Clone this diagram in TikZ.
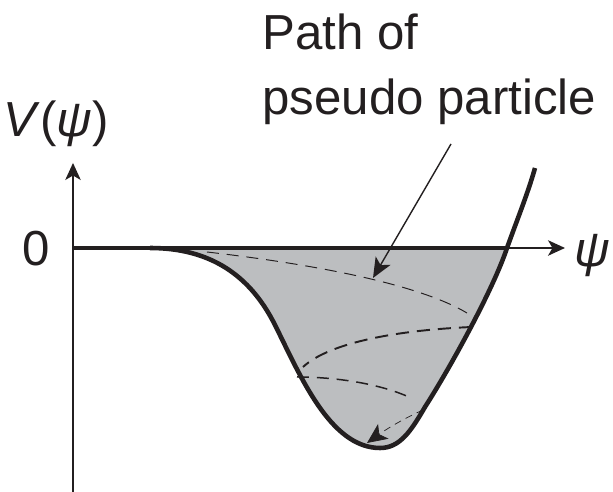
\documentclass[tikz,border=0pt]{standalone}
\usepackage{fontspec}
\setsansfont{Liberation Sans}
\usetikzlibrary{arrows.meta}
\definecolor{WellGray}{RGB}{188,190,192}
\definecolor{InkBlack}{RGB}{35,31,32}

\begin{document}
\begin{tikzpicture}[x=0.02cm,y=-0.02cm,font=\sffamily\fontsize{28}{37}\selectfont,text=InkBlack,
  axisline/.style={InkBlack,line width=0.75pt,-{Stealth[length=3.4mm,width=3.1mm,inset=0.9mm]}},
  potline/.style={InkBlack,line width=2.6pt},
  pathdash/.style={InkBlack,dash pattern=on 6.8pt off 4.5pt}]
  \useasboundingbox (0,0) rectangle (613,492);
  \fill[white] (0,0) rectangle (613,492);

  % axes
  \coordinate (O) at (73,248);
  \coordinate (Ytop) at (73,163);
  \coordinate (Ybot) at (73,492);
  \coordinate (Xend) at (565,248);
  \draw[axisline] (Ybot)--(Ytop);
  \draw[axisline] (O)--(Xend);
  \node (Vlabel) at (56,124) {\textit{V}(\textit{ψ})};
  \node (zero) at (36,249) {0};
  \node (psi) at (592,256) {\textit{ψ}};

  % potential well
  \coordinate (Wstart) at (150,248);
  \coordinate (Wbot) at (380,448);
  \coordinate (Wcross) at (507,248);
  \coordinate (Wend) at (535,168);
  \fill[WellGray] (Wstart) .. controls (210,248) and (250,275) .. (275,325)
    .. controls (300,375) and (330,448) .. (Wbot)
    .. controls (400,448) and (411,431) .. (425,407)
    .. controls (450,368) and (493,290) .. (Wcross) -- cycle;
  \draw[potline] (O)--(Wcross);
  \draw[potline] (Wstart) .. controls (210,248) and (250,275) .. (275,325)
    .. controls (300,375) and (330,448) .. (Wbot)
    .. controls (400,448) and (411,431) .. (425,407)
    .. controls (450,368) and (493,290) .. (Wcross)
    .. controls (517,220) and (528,193) .. (Wend);

  % path of pseudo particle
  \draw[pathdash,line width=0.55pt] (207,252) .. controls (320,265) and (420,285) .. (467,313);
  \draw[pathdash,line width=1.1pt,dash pattern=on 7.5pt off 4.5pt] (472,327) .. controls (400,330) and (330,342) .. (303,367);
  \draw[pathdash,line width=0.85pt] (297,377) .. controls (340,377) and (385,385) .. (413,399);
  \draw[pathdash,line width=0.4pt,dash pattern=on 4pt off 3pt,-{Stealth[length=4mm,width=3.6mm,inset=1mm]}]
    (423,410) .. controls (405,418) and (388,428) .. (367,443);

  % label and pointer
  \node[align=left,anchor=north west,inner sep=0pt] (pathlabel) at (262,14) {Path of\\pseudo particle};
  \coordinate (ptrstart) at (451,144);
  \coordinate (ptrtip) at (373,278);
  \draw[InkBlack,line width=0.8pt,-{Stealth[length=4mm,width=3.4mm,inset=1mm]}] (ptrstart)--(ptrtip);
\end{tikzpicture}
\end{document}
